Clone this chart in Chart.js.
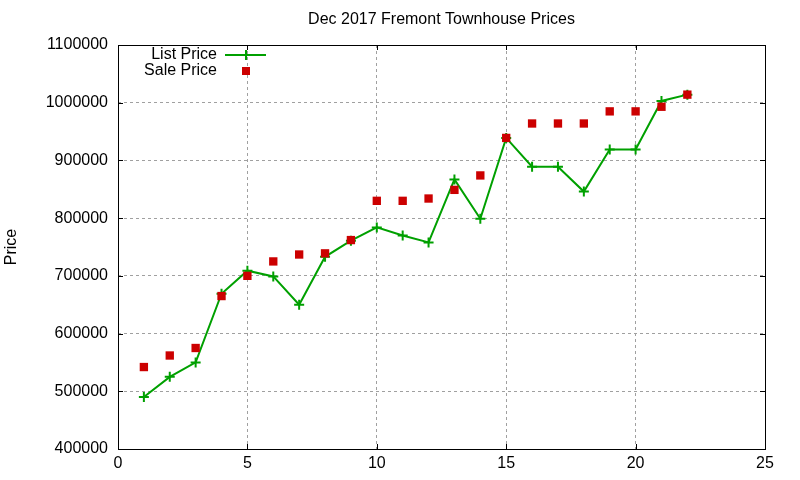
<!DOCTYPE html>
<html>
<head>
<meta charset="utf-8">
<script src="https://cdn.jsdelivr.net/npm/chart.js@4.4.0/dist/chart.umd.min.js"></script>
<style>
  html, body { margin: 0; padding: 0; background: #fff; }
  #wrap { width: 800px; height: 480px; }
</style>
</head>
<body>
<div id="wrap"><canvas id="myChart" width="800" height="480"></canvas></div>
<script>
const chartTitle = 'Dec 2017 Fremont Townhouse Prices';
const listings = [1, 2, 3, 4, 5, 6, 7, 8, 9, 10, 11, 12, 13, 14, 15, 16, 17, 18, 19, 20, 21, 22];
const listPrice = [490000, 525000, 550000, 669000, 709000, 699000, 650000, 733000, 761000, 784000, 770000, 758000,
	867000, 799000, 939000, 889000, 889000, 846000, 919000, 919000, 1003000, 1014000];
const salePrice = [542000, 562000, 575000, 665000, 700000, 725000, 737000, 739000, 762000, 830000, 830000, 834000,
	849000, 874000, 939000, 964000, 964000, 964000, 985000, 985000, 993000, 1014000];
const xTicks = [0, 5, 10, 15, 20, 25];
const yTicks = [400000, 500000, 600000, 700000, 800000, 900000, 1000000, 1100000];

const green = 'rgb(0, 160, 0)';
const red = 'rgb(204, 0, 0)';
const fontFamily = '"Liberation Sans", Arial, sans-serif';
const fontSize = 16;

// gnuplot-like frame, inward ticks, title and key
const gnuplotFrame = {
	id: 'gnuplotFrame',
	afterDraw(chart) {
		const ctx = chart.ctx;
		const a = chart.chartArea;
		const xs = chart.scales.x, ys = chart.scales.y;
		ctx.save();
		ctx.strokeStyle = '#000';
		ctx.lineWidth = 1;
		ctx.beginPath();
		xTicks.forEach(v => {
			const px = Math.round(xs.getPixelForValue(v)) + 0.5;
			ctx.moveTo(px, a.bottom); ctx.lineTo(px, a.bottom - 5);
			ctx.moveTo(px, a.top); ctx.lineTo(px, a.top + 5);
		});
		yTicks.forEach(v => {
			const py = Math.round(ys.getPixelForValue(v)) + 0.5;
			ctx.moveTo(a.left, py); ctx.lineTo(a.left + 5, py);
			ctx.moveTo(a.right, py); ctx.lineTo(a.right - 5, py);
		});
		ctx.stroke();
		ctx.strokeRect(Math.round(a.left) + 0.5, Math.round(a.top) + 0.5,
			Math.round(a.right - a.left), Math.round(a.bottom - a.top));

		ctx.fillStyle = '#000';
		ctx.font = fontSize + 'px ' + fontFamily;
		ctx.textBaseline = 'middle';
		ctx.textAlign = 'center';
		ctx.fillText(chartTitle, (a.left + a.right) / 2, 20);

		// key
		ctx.textAlign = 'right';
		ctx.fillText(chart.data.datasets[0].label, 217, 55);
		ctx.fillText(chart.data.datasets[1].label, 217, 71);
		ctx.strokeStyle = green;
		ctx.lineWidth = 2;
		ctx.beginPath();
		ctx.moveTo(225, 55); ctx.lineTo(266, 55);
		ctx.moveTo(246, 50); ctx.lineTo(246, 60);
		ctx.stroke();
		ctx.fillStyle = red;
		ctx.fillRect(242, 67, 8, 8);
		ctx.restore();
	}
};

const ctx = document.getElementById('myChart').getContext('2d');
const myChart = new Chart(ctx, {
	type: 'line',
	data: {
		labels: listings,
		datasets: [{
			label: 'List Price',
			data: listings.map((x, i) => ({ x: x, y: listPrice[i] })),
			borderColor: green,
			backgroundColor: green,
			borderWidth: 2,
			pointStyle: 'cross',
			pointRadius: 5,
			pointBorderWidth: 2,
			pointHoverRadius: 5,
			tension: 0,
			order: 2
		}, {
			label: 'Sale Price',
			data: listings.map((x, i) => ({ x: x, y: salePrice[i] })),
			borderColor: red,
			backgroundColor: red,
			showLine: false,
			pointStyle: 'rect',
			pointRadius: 5.9,
			pointBorderWidth: 0,
			pointHoverRadius: 5.9,
			order: 1
		}]
	},
	options: {
		responsive: false,
		animation: false,
		layout: { padding: { top: 45, right: 35, left: 0, bottom: 0 } },
		plugins: {
			legend: { display: false },
			title: { display: false },
			tooltip: { enabled: false }
		},
		scales: {
			x: {
				type: 'linear',
				min: 0,
				max: 25,
				afterFit: s => { s.height = 31; },
				afterBuildTicks: s => { s.ticks = xTicks.map(v => ({ value: v })); },
				ticks: { color: '#000', padding: 5, font: { family: fontFamily, size: fontSize }, callback: v => String(v) },
				grid: { color: '#a0a0a0', lineWidth: 1, drawTicks: false },
				border: { display: false, dash: [3, 3] }
			},
			y: {
				min: 400000,
				max: 1100000,
				afterFit: s => { s.width = 118; },
				afterBuildTicks: s => { s.ticks = yTicks.map(v => ({ value: v })); },
				ticks: { color: '#000', padding: 10, font: { family: fontFamily, size: fontSize }, callback: v => String(v) },
				grid: { color: '#a0a0a0', lineWidth: 1, drawTicks: false },
				border: { display: false, dash: [3, 3] },
				title: {
					display: true,
					text: 'Price',
					color: '#000',
					padding: { top: 2, bottom: 0 },
					font: { family: fontFamily, size: fontSize }
				}
			}
		}
	},
	plugins: [gnuplotFrame]
});
</script>
</body>
</html>
